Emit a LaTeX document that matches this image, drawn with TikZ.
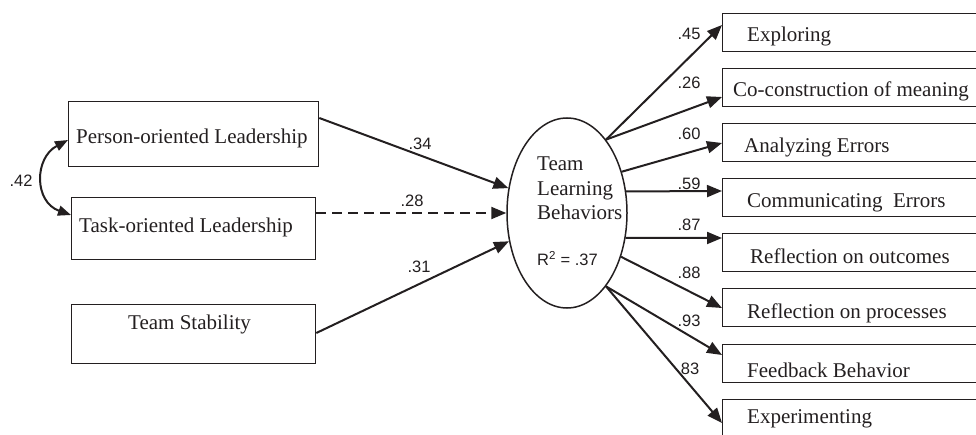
\documentclass[tikz,border=0pt]{standalone}
\usepackage{fontspec}
\setmainfont{Liberation Serif}
\newfontfamily\arialf{Liberation Sans}
\usetikzlibrary{arrows.meta,calc,shapes.geometric}
\definecolor{ink}{HTML}{231F20}
\begin{document}
\begin{tikzpicture}[x=1pt,y=-1pt,
  box/.style={draw=ink,line width=1.3pt,inner sep=0pt,anchor=north west},
  lbox/.style={box,minimum width=244pt,minimum height=62pt},
  rbox/.style={box,minimum width=320pt,minimum height=38pt},
  txt/.style={inner sep=0pt,anchor=base west,text=ink,font=\fontsize{21}{24}\selectfont},
  coef/.style={inner sep=0pt,text=ink,font=\arialf\fontsize{16.5}{18}\selectfont},
  arr/.style={draw=ink,line width=2pt,-{Triangle[length=15pt,width=12pt]}},
  dbl/.style={draw=ink,line width=2pt,{Triangle[length=13pt,width=10pt]}-{Triangle[length=13pt,width=10pt]}}
]
\useasboundingbox (0,0) rectangle (976,435);

% left boxes
\node[lbox,minimum width=250pt,minimum height=65pt] (pol) at (68,101) {};
\node[lbox] (tol) at (71,197) {};
\node[lbox,minimum height=59pt] (ts) at (71,304) {};
\node[txt] (tpol) at (76,144) {Person-oriented Leadership};
\node[txt] (ttol) at (79,233) {Task-oriented Leadership};
\node[txt] (tts) at (128,329) {Team Stability};

% latent variable
\node[draw=ink,line width=1.5pt,ellipse,minimum width=120pt,minimum height=190pt,inner sep=0pt] (tlb) at (567,213) {};
\node[txt] (e1) at (537,171) {Team};
\node[txt] (e2) at (537,196) {Learning};
\node[txt] (e3) at (537,220) {Behaviors};
\node[coef,anchor=base west] (e4) at (537,266) {R\textsuperscript{2} = .37};

% right boxes
\node[rbox] (b1) at (722,13) {};
\node[rbox] (b2) at (722,68) {};
\node[rbox] (b3) at (722,123) {};
\node[rbox] (b4) at (722,178) {};
\node[rbox] (b5) at (722,233) {};
\node[rbox] (b6) at (722,288) {};
\node[rbox] (b7) at (722,344) {};
\node[rbox] (b8) at (722,399) {};
\node[txt] (t1) at (747,42) {Exploring};
\node[txt] (t2) at (733,97) {Co-construction of meaning};
\node[txt] (t3) at (744,153) {Analyzing Errors};
\node[txt] (t4) at (747,208) {Communicating\ \ Errors};
\node[txt] (t5) at (750,264) {Reflection on outcomes};
\node[txt] (t6) at (747,319) {Reflection on processes};
\node[txt] (t7) at (747,377) {Feedback Behavior};
\node[txt] (t8) at (747,423) {Experimenting};

% correlation
\draw[dbl] ($(pol.north west)+(0,39)$) .. controls (34,158) and (34,202) .. ($(tol.north west)+(0,18)$);
\node[coef] (c42) at (21,181) {.42};

% predictors
\draw[arr] ($(pol.north east)+(0,17)$) -- (tlb.157);
\draw[arr,dash pattern=on 10pt off 6pt] ($(tol.north east)+(0,16)$) -- (tlb.180);
\draw[arr] ($(ts.north east)+(0,29)$) -- (tlb.206);
\node[coef] (c34) at (420,144) {.34};
\node[coef] (c28) at (412,201) {.28};
\node[coef] (c31) at (419,267) {.31};

% indicators
\draw[arr] (tlb.62) -- ($(b1.north west)+(0,12)$);
\draw[arr] (tlb.62) -- ($(b2.north west)+(0,29)$);
\draw[arr] (tlb.37) -- ($(b3.north west)+(0,20)$);
\draw[arr] (tlb.20) -- ($(b4.north west)+(0,13)$);
\draw[arr] (tlb.-23) -- ($(b5.north west)+(0,5)$);
\draw[arr] (tlb.-39) -- ($(b6.north west)+(0,20)$);
\draw[arr] (tlb.-62) -- ($(b7.north west)+(0,11)$);
\draw[arr] (tlb.-62) -- ($(b8.north west)+(0,24)$);
\node[coef] (c45) at (689,34) {.45};
\node[coef] (c26) at (689,83) {.26};
\node[coef] (c60) at (689,134) {.60};
\node[coef] (c59) at (689,184) {.59};
\node[coef] (c87) at (689,225) {.87};
\node[coef] (c88) at (689,273) {.88};
\node[coef] (c93) at (689,321) {.93};
\node[coef] (c83) at (690,369) {83};
\end{tikzpicture}
\end{document}
